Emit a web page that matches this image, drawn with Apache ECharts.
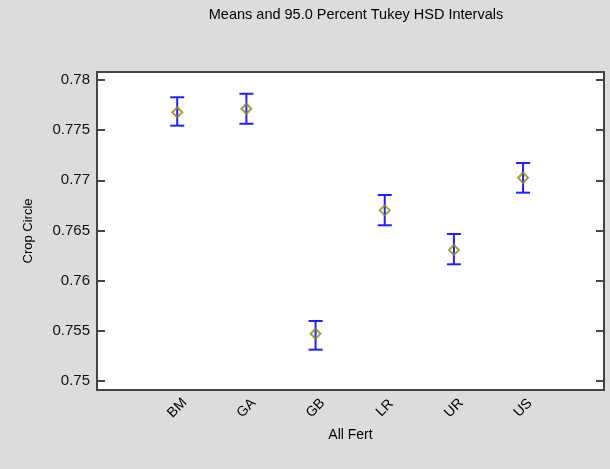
<!DOCTYPE html>
<html>
<head>
<meta charset="utf-8">
<script src="https://cdn.jsdelivr.net/npm/echarts@6/dist/echarts.min.js"></script>
<style>
  html, body { margin: 0; padding: 0; background: #dcdcdc; }
  #chart { width: 610px; height: 469px; }
</style>
</head>
<body>
<div id="chart"></div>
<script>
// Fertilizer groups and their Tukey HSD interval summaries
const categories = ['BM', 'GA', 'GB', 'LR', 'UR', 'US'];
const means = [0.77678, 0.77714, 0.75471, 0.76701, 0.76306, 0.77026];
const lower = [0.77545, 0.77564, 0.75312, 0.76552, 0.76163, 0.76877];
const upper = [0.77828, 0.77863, 0.75598, 0.76854, 0.76465, 0.77173];
const yTicks = [0.75, 0.755, 0.76, 0.765, 0.77, 0.775, 0.78];
const yTickLabels = ['0.75', '0.755', '0.76', '0.765', '0.77', '0.775', '0.78'];

const positions = categories.map((c, i) => i + 1);
const intervalData = positions.map((x, i) => [x, lower[i], upper[i]]);
const meanData = positions.map((x, i) => [x, means[i]]);

const chart = echarts.init(document.getElementById('chart'), null, { renderer: 'canvas' });

const textFont = 'Liberation Sans, Arial, sans-serif';
const blue = '#1f1fff';
const tickStyle = { color: '#444444', width: 2 };

chart.setOption({
  backgroundColor: '#dcdcdc',
  animation: false,
  title: {
    text: 'Means and 95.0 Percent Tukey HSD Intervals',
    left: 351,
    textAlign: 'center',
    top: 2,
    textStyle: { fontFamily: textFont, fontSize: 14.5, fontWeight: 'normal', color: '#000' }
  },
  grid: {
    left: 97, right: 6, top: 72, bottom: 79,
    show: true,
    backgroundColor: '#ffffff',
    borderColor: '#444444',
    borderWidth: 2
  },
  xAxis: {
    type: 'value',
    min: -0.16,
    max: 7.17,
    name: 'All Fert',
    nameLocation: 'middle',
    nameGap: 38,
    nameTextStyle: { fontFamily: textFont, fontSize: 14, color: '#000' },
    axisLine: { show: false, onZero: false },
    axisTick: { show: false },
    splitLine: { show: false },
    axisLabel: {
      customValues: positions,
      formatter: v => categories[Math.round(v) - 1] || '',
      rotate: 45,
      align: 'center',
      verticalAlign: 'middle',
      margin: 18,
      fontFamily: textFont,
      fontSize: 14,
      color: '#000'
    }
  },
  yAxis: [
    {
      type: 'value',
      min: 0.7491,
      max: 0.7808,
      name: 'Crop Circle',
      nameLocation: 'middle',
      nameGap: 62,
      nameTextStyle: { fontFamily: textFont, fontSize: 13, color: '#000' },
      axisLine: { show: false, onZero: false },
      splitLine: { show: false },
      axisTick: {
        show: true,
        inside: true,
        length: 8,
        customValues: yTicks,
        lineStyle: tickStyle
      },
      axisLabel: {
        customValues: yTicks,
        formatter: v => {
          const k = yTicks.findIndex(t => Math.abs(t - v) < 1e-9);
          return k >= 0 ? yTickLabels[k] : '';
        },
        margin: 7,
        fontFamily: textFont,
        fontSize: 15,
        color: '#111'
      }
    },
    {
      type: 'value',
      position: 'right',
      min: 0.7491,
      max: 0.7808,
      axisLine: { show: false, onZero: false },
      splitLine: { show: false },
      axisLabel: { show: false },
      axisTick: {
        show: true,
        inside: true,
        length: 8,
        customValues: yTicks,
        lineStyle: tickStyle
      }
    }
  ],
  series: [
    {
      type: 'custom',
      data: intervalData,
      encode: { x: 0, y: [1, 2] },
      renderItem: function (params, api) {
        const x = api.value(0);
        const lo = api.coord([x, api.value(1)]);
        const hi = api.coord([x, api.value(2)]);
        const half = 7;
        const style = { stroke: blue, lineWidth: 2, fill: null };
        return {
          type: 'group',
          children: [
            { type: 'line', shape: { x1: lo[0], y1: lo[1], x2: hi[0], y2: hi[1] }, style },
            { type: 'line', shape: { x1: lo[0] - half, y1: lo[1], x2: lo[0] + half, y2: lo[1] }, style },
            { type: 'line', shape: { x1: hi[0] - half, y1: hi[1], x2: hi[0] + half, y2: hi[1] }, style }
          ]
        };
      },
      z: 2
    },
    {
      type: 'scatter',
      data: meanData,
      symbol: 'diamond',
      symbolSize: [10, 10],
      itemStyle: { color: 'rgba(0,0,0,0)', borderColor: '#8f8a10', borderWidth: 2 },
      z: 3
    }
  ]
});
</script>
</body>
</html>
